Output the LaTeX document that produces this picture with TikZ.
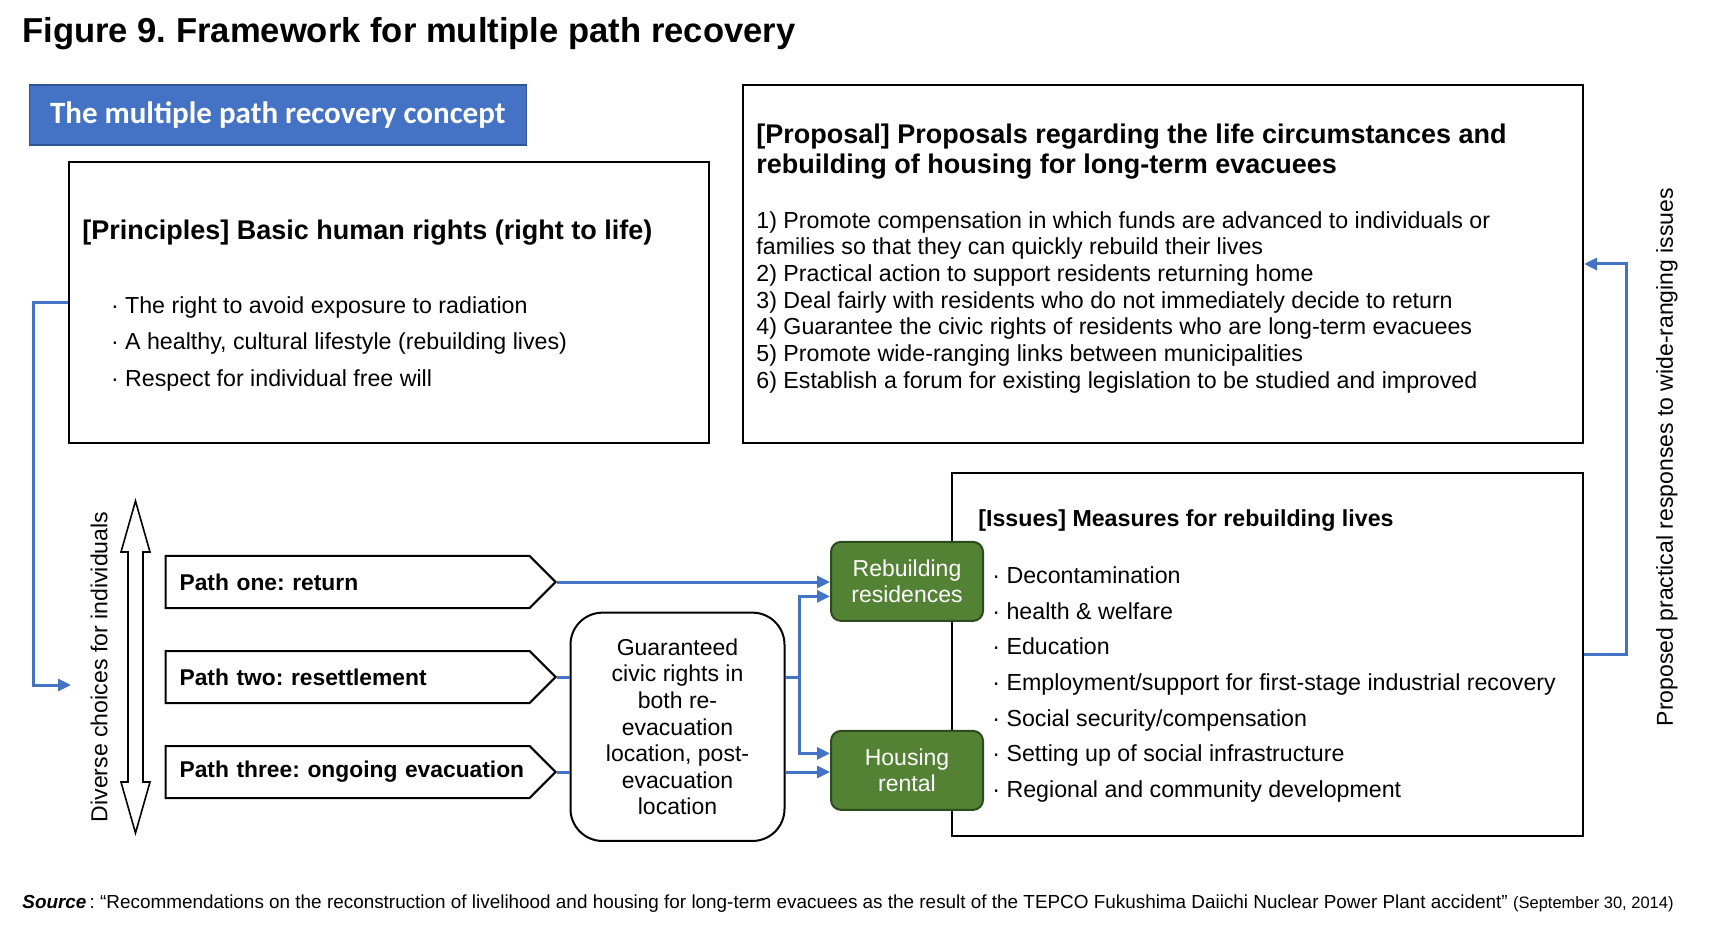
\documentclass[tikz,border=0pt]{standalone}
\usepackage{fontspec}
\setmainfont{Liberation Sans}
\newfontfamily\calibri{Carlito}
\usetikzlibrary{arrows.meta,shapes.symbols,calc,positioning}
\frenchspacing
\definecolor{flowblue}{HTML}{4472C4}
\definecolor{headedge}{HTML}{2F5597}
\definecolor{leafgreen}{HTML}{548235}
\definecolor{leafedge}{HTML}{2E4A1F}
\tikzstyle{panel} = [draw, line width=1pt, rectangle, inner sep=0pt, anchor=north west]
\tikzstyle{pathbox} = [draw, line width=1pt, signal, signal to=east, signal pointer angle=90,
    minimum height=26pt, text width=168pt, align=left,
    inner xsep=7pt, font=\fontsize{11.4}{13}\selectfont\bfseries]
\tikzstyle{housebox} = [draw=leafedge, fill=leafgreen, line width=1pt, rounded corners=5pt,
    minimum width=76pt, minimum height=39.5pt, inner sep=0pt, text=white, align=center,
    font=\fontsize{11.5}{13.3}\selectfont]
\tikzstyle{flow} = [draw=flowblue, line width=1.5pt, -{Triangle[length=6.5pt,width=6pt]}]
\tikzstyle{link} = [draw=flowblue, line width=1.5pt]
\tikzstyle{listtext} = [inner sep=0pt, anchor=north west, align=left]

\begin{document}
\begin{tikzpicture}[x=0.5pt, y=-0.5pt]
    \useasboundingbox (0,0) rectangle (1711,929);
    % heading
    \node [anchor=base west, inner sep=0pt, font=\fontsize{17.3}{20}\selectfont\bfseries] (title) at (22,43) {Figure 9. Framework for multiple path recovery};
    \node [panel, fill=flowblue, draw=headedge, line width=0.8pt, minimum width=248.5pt, minimum height=30pt] (concept) at (28.5,84) {};
    \node [text=white, font=\calibri\fontsize{15.5}{18}\selectfont\bfseries] at (concept.center) {The multiple path recovery concept};
    % principles and proposal
    \node [panel, minimum width=320pt, minimum height=140.5pt] (princ) at (67.5,161) {};
    \node [anchor=base west, inner sep=0pt, font=\fontsize{13.5}{16}\selectfont\bfseries] (princhead) at (82,240) {[Principles] Basic human rights (right to life)};
    \node [listtext, font=\fontsize{11.6}{18.25}\selectfont] (princlist) at (110.6,296) {· The right to avoid exposure to radiation\\· A healthy, cultural lifestyle (rebuilding lives)\\· Respect for individual free will};
    \node [panel, minimum width=420.2pt, minimum height=179pt] (prop) at (741.6,84) {};
    \node [listtext, font=\fontsize{13.5}{15}\selectfont\bfseries] (prophead) at (756,123.3) {[Proposal] Proposals regarding the life circumstances and\\rebuilding of housing for long-term evacuees};
    \node [listtext, font=\fontsize{11.6}{13.33}\selectfont] (proplist) at (756,211.1) {1) Promote compensation in which funds are advanced to individuals or\\families so that they can quickly rebuild their lives\\2) Practical action to support residents returning home\\3) Deal fairly with residents who do not immediately decide to return\\4) Guarantee the civic rights of residents who are long-term evacuees\\5) Promote wide-ranging links between municipalities\\6) Establish a forum for existing legislation to be studied and improved};
    % issues
    \node [panel, minimum width=315.75pt, minimum height=181.65pt] (issues) at (950.5,471.7) {};
    \node [anchor=base west, inner sep=0pt, font=\fontsize{11.6}{14}\selectfont\bfseries] (issuehead) at (978,526.7) {[Issues] Measures for rebuilding lives};
    \node [listtext, font=\fontsize{11.6}{17.8}\selectfont] (issuelist) at (992,566.4) {· Decontamination\\· health \& welfare\\· Education\\· Employment/support for first-stage industrial recovery\\· Social security/compensation\\· Setting up of social infrastructure\\· Regional and community development};
    % individual choices
    \draw [line width=0.8pt, fill=white] (135.5,501) -- (150,552) -- (143,552) -- (143,782) -- (150,782) -- (135.5,833)
        -- (121,782) -- (128,782) -- (128,552) -- (121,552) -- cycle;
    \node [rotate=90, inner sep=0pt, font=\fontsize{11.55}{13}\selectfont] (choices) at (99,667) {Diverse choices for individuals};
    \node [pathbox, anchor=west] (path1) at (164.6,582) {\mbox{Path one: return}};
    \node [pathbox, below of=path1, node distance=47.5pt] (path2) {\mbox{Path two: resettlement}};
    \node [pathbox, below of=path2, node distance=47.5pt] (path3) {\mbox{Path three: ongoing evacuation}};
    \node [draw, line width=1pt, rounded corners=16pt, minimum width=107pt, minimum height=114.15pt, inner sep=0pt,
        align=center, font=\fontsize{11.5}{13.3}\selectfont] (guar) at (677.5,726.8) {Guaranteed\\civic rights in\\both re-\\evacuation\\location, post-\\evacuation\\location};
    \node [housebox] (rebuild) at (907,581.4) {Rebuilding\\residences};
    \node [housebox, below of=rebuild, node distance=94.5pt] (housing) {Housing\\rental};
    % side label
    \node [rotate=90, inner sep=0pt, font=\fontsize{11.5}{13}\selectfont] (response) at (1667,457) {Proposed practical responses to wide-ranging issues};
    % connectors
    \coordinate (choicein) at (71,685);
    \draw [flow] (princ.west) -- ++(-34.5,0) |- (choicein);
    \draw [flow] (issues.east) -- ++(42,0) |- (prop.east);
    \draw [flow] (path1.east) -- (path1.east -| rebuild.west);
    \draw [link] (path2.east) -- (path2.east -| guar.west);
    \draw [link] (path3.east) -- (path3.east -| guar.west);
    \coordinate (fork) at ($(path2.east -| guar.east)+(14,0)$);
    \draw [link] (path2.east -| guar.east) -- (fork);
    \draw [flow] (fork) |- ($(rebuild.west)+(0,15)$);
    \draw [flow] (fork) |- ($(housing.west)+(0,-17)$);
    \draw [flow] (path3.east -| guar.east) -- (path3.east -| housing.west);
    % source
    \node [anchor=base west, inner sep=0pt, font=\fontsize{9.45}{11}\selectfont] (source) at (22,908) {\textbf{\textit{Source}}\,: “Recommendations on the reconstruction of livelihood and housing for long-term evacuees as the result of the TEPCO Fukushima Daiichi Nuclear Power Plant accident” {\fontsize{8.25}{9}\selectfont(September 30, 2014)}};
\end{tikzpicture}
\end{document}
